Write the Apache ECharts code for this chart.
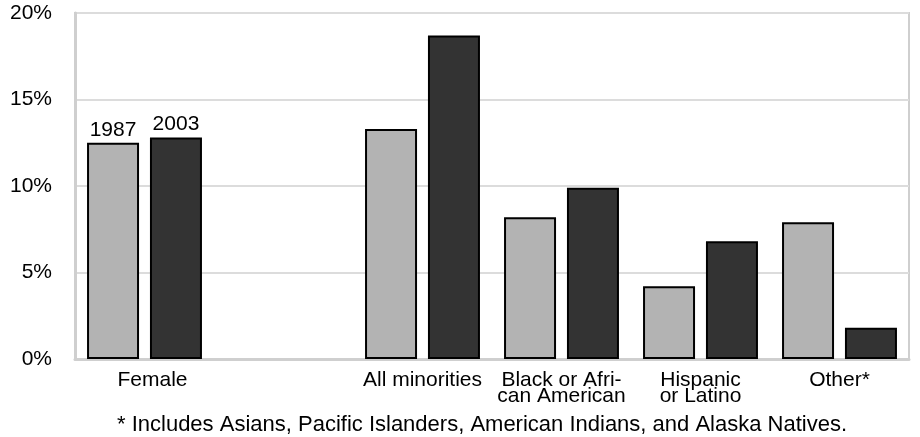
<!DOCTYPE html>
<html><head><meta charset="utf-8">
<script src="https://cdn.jsdelivr.net/npm/echarts@6/dist/echarts.min.js"></script>
<style>html,body{margin:0;padding:0;background:#fff}#c{width:920px;height:437px}</style>
</head><body><div id="c"></div>
<script>
const categories = ["Female", "", "All minorities", "Black or Afri-\ncan American", "Hispanic\nor Latino", "Other*"];
const series1987 = [12.5, null, 13.3, 8.2, 4.2, 7.9];
const series2003 = [12.8, null, 18.7, 9.9, 6.8, 1.8];
const seriesNames = ["1987", "2003"];
const yTicks = [0, 5, 10, 15, 20];
const footnote = "* Includes Asians, Pacific Islanders, American Indians, and Alaska Natives.";

const FONT = "Liberation Sans, Arial, Helvetica, sans-serif";
const FS = 21;
const chart = echarts.init(document.getElementById('c'), null, {renderer: 'canvas'});
function labelFor(name) {
  return {
    show: true, position: 'top', distance: 4,
    formatter: p => p.dataIndex === 0 ? name : '',
    color: '#000', fontFamily: FONT, fontSize: FS, lineHeight: 18
  };
}
const catData = categories.map((c, i) => i === 0 ? {value: c, textStyle: {padding: [0, 0, 0, 16]}} : c);
chart.setOption({
  animation: false,
  backgroundColor: '#fff',
  grid: {left: 75, right: 11, top: 13, bottom: 78, show: true, borderColor: '#cfcfcf', borderWidth: 2, containLabel: false},
  xAxis: {
    type: 'category', data: catData,
    axisLine: {show: true, lineStyle: {color: '#cfcfcf', width: 3}},
    axisTick: {show: false},
    axisLabel: {color: '#000', fontFamily: FONT, fontSize: FS, lineHeight: 16, margin: 13, interval: 0}
  },
  yAxis: {
    type: 'value', min: yTicks[0], max: yTicks[yTicks.length - 1], interval: 5,
    axisLine: {show: true, lineStyle: {color: '#cfcfcf', width: 3}},
    axisTick: {show: false},
    splitLine: {lineStyle: {color: '#dcdcdc', width: 2}},
    axisLabel: {formatter: v => v + '%', color: '#000', fontFamily: FONT, fontSize: FS, margin: 23}
  },
  series: [
    {name: seriesNames[0], type: 'bar', data: series1987, barWidth: 52, barGap: '21%',
     itemStyle: {color: '#b3b3b3', borderColor: '#000', borderWidth: 2}, label: labelFor(seriesNames[0])},
    {name: seriesNames[1], type: 'bar', data: series2003, barWidth: 52,
     itemStyle: {color: '#333333', borderColor: '#000', borderWidth: 2}, label: labelFor(seriesNames[1])}
  ],
  graphic: [{type: 'text', x: 482, y: 425,
    style: {text: footnote, fill: '#000', font: '22px ' + FONT, textAlign: 'center', textVerticalAlign: 'middle'}}]
});
</script></body></html>
